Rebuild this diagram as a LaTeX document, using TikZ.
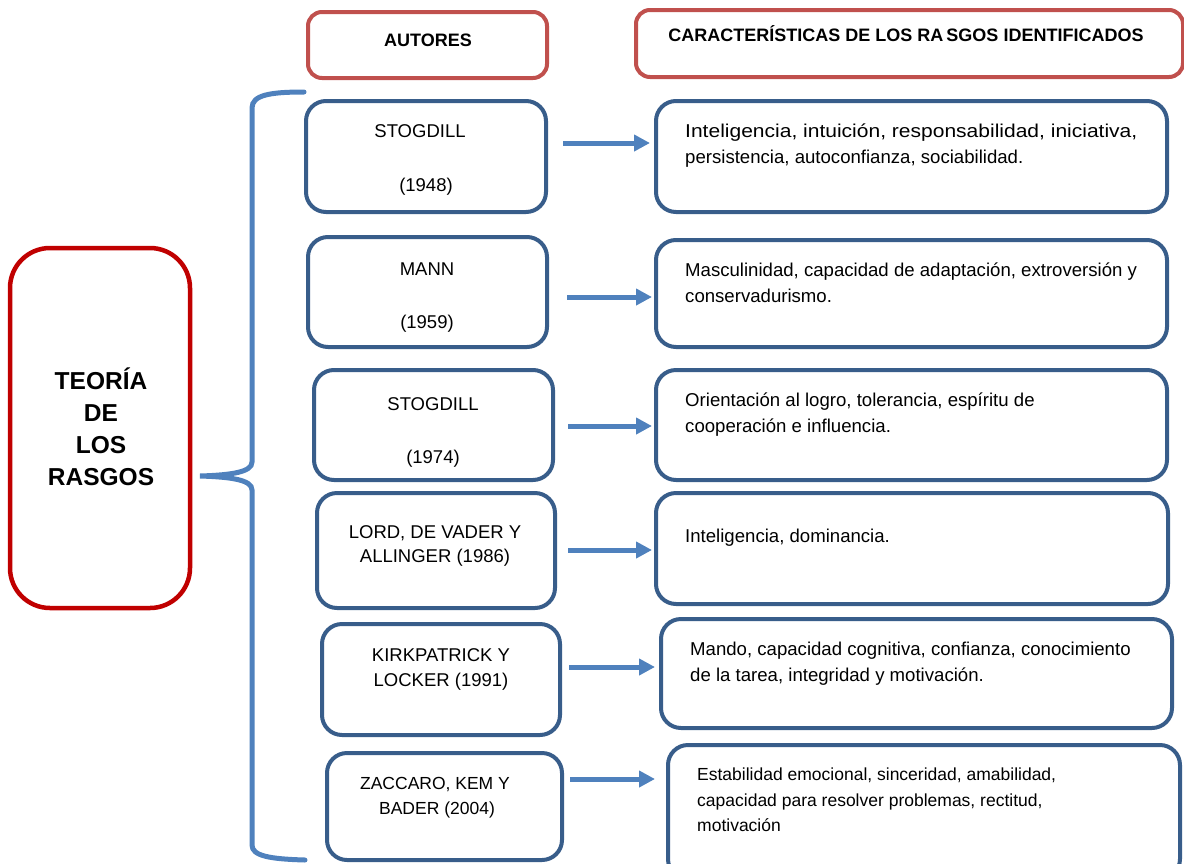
\documentclass[tikz,border=0pt]{standalone}
\usepackage{fontspec}
\usepackage{graphicx}
\setmainfont{Liberation Sans}
\usetikzlibrary{arrows.meta}
\definecolor{boxblue}{RGB}{56,93,138}
\definecolor{arrblue}{RGB}{79,129,189}
\definecolor{headred}{RGB}{192,80,77}
\definecolor{mainred}{RGB}{192,0,0}
\begin{document}
\begin{tikzpicture}[x=1pt,y=-1pt,
  bluebox/.style={draw=boxblue, line width=4pt, rounded corners=20pt, inner sep=0pt, fill=white},
  headbox/.style={draw=headred, line width=4pt, rounded corners=14pt, inner sep=0pt, fill=white},
  mainbox/.style={draw=mainred, line width=4.5pt, rounded corners=40pt, inner sep=0pt, fill=white},
  headtxt/.style={font=\fontsize{18}{22}\selectfont\bfseries, inner sep=0pt, anchor=base},
  authtxt/.style={font=\fontsize{18.5}{22}\selectfont, inner sep=0pt, anchor=base},
  chartxt/.style={font=\fontsize{18.6}{26}\selectfont, inner sep=0pt, anchor=north west, align=left},
  arr/.style={draw=arrblue, line width=5pt, -{Triangle[length=16pt,width=16pt]}},
  bracestyle/.style={draw=arrblue, line width=5pt, line cap=round}]
\useasboundingbox (0,0) rectangle (1184,863);
% headers
\node[headbox, minimum width=239pt, minimum height=66pt] (h1) at (427.5,45) {};
\node[headtxt] (h1t) at (428,46) {AUTORES};
\node[headbox, minimum width=547pt, minimum height=67pt] (h2) at (909.5,43.5) {};
\node[headtxt] (h2t) at (906,41) {CARACTERÍSTICAS DE LOS RA\,SGOS IDENTIFICADOS};
% main box
\node[mainbox, minimum width=180pt, minimum height=360pt] (main) at (100,428) {};
\node[font=\fontsize{24.5}{32}\selectfont\bfseries, inner sep=0pt, anchor=north, align=center] (maint) at (101,367) {\strut TEORÍA\\DE\\LOS\\RASGOS};
% brace
\draw[bracestyle] (304,92) .. controls (270,92) and (252,95) .. (252,108) -- (252,462)
  .. controls (252,472) and (232,475) .. (200,476)
  .. controls (232,477) and (252,480) .. (252,490) -- (252,845)
  .. controls (252,856) and (270,859) .. (305,860);
% left boxes
\node[bluebox, minimum width=240pt, minimum height=111pt] (l1) at (426,156.5) {};
\node[bluebox, minimum width=239pt, minimum height=110pt] (l2) at (427.5,292) {};
\node[bluebox, minimum width=239pt, minimum height=110pt] (l3) at (433.5,425) {};
\node[bluebox, minimum width=238pt, minimum height=115pt] (l4) at (436,550.5) {};
\node[bluebox, minimum width=238pt, minimum height=111pt] (l5) at (441,679.5) {};
\node[bluebox, minimum width=235pt, minimum height=107pt] (l6) at (444.5,806.5) {};
\node[authtxt] (l1a) at (420,137) {STOGDILL};
\node[authtxt] (l1b) at (426,191) {(1948)};
\node[authtxt] (l2a) at (427,275) {MANN};
\node[authtxt] (l2b) at (427,328) {(1959)};
\node[authtxt] (l3a) at (433,410) {STOGDILL};
\node[authtxt] (l3b) at (433,463) {(1974)};
\node[authtxt] (l4a) at (435,538) {LORD, DE VADER Y};
\node[authtxt] (l4b) at (435,562) {ALLINGER (1986)};
\node[authtxt] (l5a) at (441,661) {KIRKPATRICK Y};
\node[authtxt] (l5b) at (441,686) {LOCKER (1991)};
\node[authtxt, font=\fontsize{17.5}{22}\selectfont] (l6a) at (435,789) {ZACCARO, KEM Y};
\node[authtxt, font=\fontsize{17.5}{22}\selectfont] (l6b) at (437,814) {BADER (2004)};
% right boxes
\node[bluebox, minimum width=511pt, minimum height=111pt] (r1) at (911.5,156.5) {};
\node[bluebox, minimum width=511pt, minimum height=107pt] (r2) at (911.5,293.5) {};
\node[bluebox, minimum width=511pt, minimum height=110pt] (r3) at (911.5,425) {};
\node[bluebox, minimum width=512pt, minimum height=111pt] (r4) at (912,548.5) {};
\node[bluebox, minimum width=511pt, minimum height=109pt] (r5) at (916.5,673.5) {};
\node[bluebox, minimum width=512pt, minimum height=134pt] (r6) at (924,812) {};
\node[chartxt] (r1t) at (685,118.8) {\strut\scalebox{1.13}[1]{Inteligencia, intuición, responsabilidad, iniciativa,}\\persistencia, autoconfianza, sociabilidad.};
\node[chartxt] (r2t) at (685,257.8) {\strut Masculinidad, capacidad de adaptación, extroversión y\\conservadurismo.};
\node[chartxt] (r3t) at (685,387.8) {\strut Orientación al logro, tolerancia, espíritu de\\cooperación e influencia.};
\node[chartxt] (r4t) at (685,523.8) {\strut Inteligencia, dominancia.};
\node[chartxt] (r5t) at (690,636.8) {\strut Mando, capacidad cognitiva, confianza, conocimiento\\de la tarea, integridad y motivación.};
\node[chartxt, font=\fontsize{17.5}{25.5}\selectfont] (r6t) at (697,762.8) {\strut Estabilidad emocional, sinceridad, amabilidad,\\capacidad para resolver problemas, rectitud,\\motivación};
% arrows
\coordinate (a1s) at (563,143); \coordinate (a1e) at (650,143);
\coordinate (a2s) at (567,297); \coordinate (a2e) at (652,297);
\coordinate (a3s) at (568,426); \coordinate (a3e) at (652,426);
\coordinate (a4s) at (568,550); \coordinate (a4e) at (652,550);
\coordinate (a5s) at (569,667); \coordinate (a5e) at (655,667);
\coordinate (a6s) at (570,779); \coordinate (a6e) at (655,779);
\draw[arr] (a1s) -- (a1e);
\draw[arr] (a2s) -- (a2e);
\draw[arr] (a3s) -- (a3e);
\draw[arr] (a4s) -- (a4e);
\draw[arr] (a5s) -- (a5e);
\draw[arr] (a6s) -- (a6e);
\end{tikzpicture}
\end{document}
